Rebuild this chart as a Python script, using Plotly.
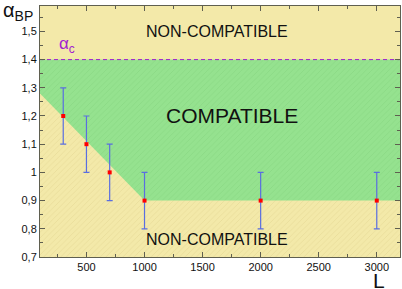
import plotly.graph_objects as go

# Data
L_values = [300, 500, 700, 1000, 2000, 3000]
alpha_values = [1.2, 1.1, 1.0, 0.9, 0.9, 0.9]
alpha_err = [0.1, 0.1, 0.1, 0.1, 0.1, 0.1]

boundary_x = [100, 1000, 3200]
boundary_y = [1.28, 0.9, 0.9]
alpha_c = 1.4

x_range = [100, 3200]
y_range = [0.7, 1.59]

x_tickvals = [500, 1000, 1500, 2000, 2500, 3000]
x_ticktext = ["500", "1000", "1500", "2000", "2500", "3000"]
y_tickvals = [0.7, 0.8, 0.9, 1.0, 1.1, 1.2, 1.3, 1.4, 1.5]
y_ticktext = ["0,7", "0,8", "0,9", "1", "1,1", "1,2", "1,3", "1,4", "1,5"]

YELLOW = "#f3e9a9"
YELLOW_H = "#ddd08a"
GREEN = "#95e28f"
GREEN_H = "#80d07b"
BLUE = "#5a6ee0"
PURPLE = "#a020d0"
AXIS = "#5f5f50"
FONT = "Liberation Sans"

fig = go.Figure()

# Lower non-compatible region
lx = [x_range[0]] + boundary_x + [x_range[1], x_range[0]]
ly = [y_range[0]] + boundary_y + [y_range[0], y_range[0]]
fig.add_trace(go.Scatter(x=lx, y=ly, mode="lines", fill="toself",
                         line=dict(width=0), fillcolor=YELLOW,
                         fillpattern=dict(shape="/", fgcolor=YELLOW_H, bgcolor=YELLOW,
                                          size=4, solidity=0.2),
                         hoverinfo="skip", showlegend=False))

# Compatible region
gx = boundary_x + [x_range[1], x_range[0], boundary_x[0]]
gy = boundary_y + [alpha_c, alpha_c, boundary_y[0]]
fig.add_trace(go.Scatter(x=gx, y=gy, mode="lines", fill="toself",
                         line=dict(width=0), fillcolor=GREEN,
                         fillpattern=dict(shape="/", fgcolor=GREEN_H, bgcolor=GREEN,
                                          size=4, solidity=0.2),
                         hoverinfo="skip", showlegend=False))

# alpha_c dashed line
fig.add_trace(go.Scatter(x=[x_range[0], x_range[1]], y=[alpha_c, alpha_c], mode="lines",
                         line=dict(color=PURPLE, width=1, dash="4px,3px"),
                         hoverinfo="skip", showlegend=False))

# Data points with error bars
fig.add_trace(go.Scatter(x=L_values, y=alpha_values, mode="markers",
                         marker=dict(symbol="square", size=4, color="#ff0000"),
                         error_y=dict(type="data", array=alpha_err, visible=True,
                                      color=BLUE, thickness=1.2, width=3),
                         showlegend=False))

fig.add_annotation(x=1620, y=1.5, text="NON-COMPATIBLE", showarrow=False,
                   font=dict(family=FONT, size=16, color="#111"))
fig.add_annotation(x=1750, y=1.2, text="COMPATIBLE", showarrow=False,
                   font=dict(family=FONT, size=21, color="#111"))
fig.add_annotation(x=1620, y=0.762, text="NON-COMPATIBLE", showarrow=False,
                   font=dict(family=FONT, size=16, color="#111"))
fig.add_annotation(x=330, y=1.452, text="α<sub>c</sub>", showarrow=False,
                   font=dict(family=FONT, size=17, color=PURPLE))

fig.add_annotation(xref="paper", yref="paper", x=-0.108, y=1.035, xanchor="left", yanchor="top",
                   text="α<sub>BP</sub>", showarrow=False,
                   font=dict(family=FONT, size=20, color="#111"))
fig.add_annotation(xref="x", yref="paper", x=3015, y=-0.04, yanchor="top",
                   text="L", showarrow=False,
                   font=dict(family=FONT, size=21, color="#111"))

fig.update_xaxes(range=x_range, tickvals=x_tickvals, ticktext=x_ticktext,
                 ticks="inside", ticklen=5, tickcolor=AXIS, showline=True, linecolor=AXIS,
                 linewidth=1, mirror="ticks", showgrid=False, zeroline=False,
                 minor=dict(dtick=250, tick0=0, ticks="inside", ticklen=3, tickcolor=AXIS),
                 tickfont=dict(family=FONT, size=11, color="#111"))
fig.update_yaxes(range=y_range, tickvals=y_tickvals, ticktext=y_ticktext,
                 ticks="inside", ticklen=5, tickcolor=AXIS, showline=True, linecolor=AXIS,
                 linewidth=1, mirror="ticks", showgrid=False, zeroline=False,
                 minor=dict(dtick=0.05, tick0=0.7, ticks="inside", ticklen=3, tickcolor=AXIS),
                 tickfont=dict(family=FONT, size=11, color="#111"))

fig.update_layout(width=402, height=289, margin=dict(l=40, r=2, t=6, b=32),
                  plot_bgcolor=YELLOW, paper_bgcolor="white")

fig.write_html("out.html", config={"displayModeBar": False},
               post_script="document.body.style.margin='0px';")
